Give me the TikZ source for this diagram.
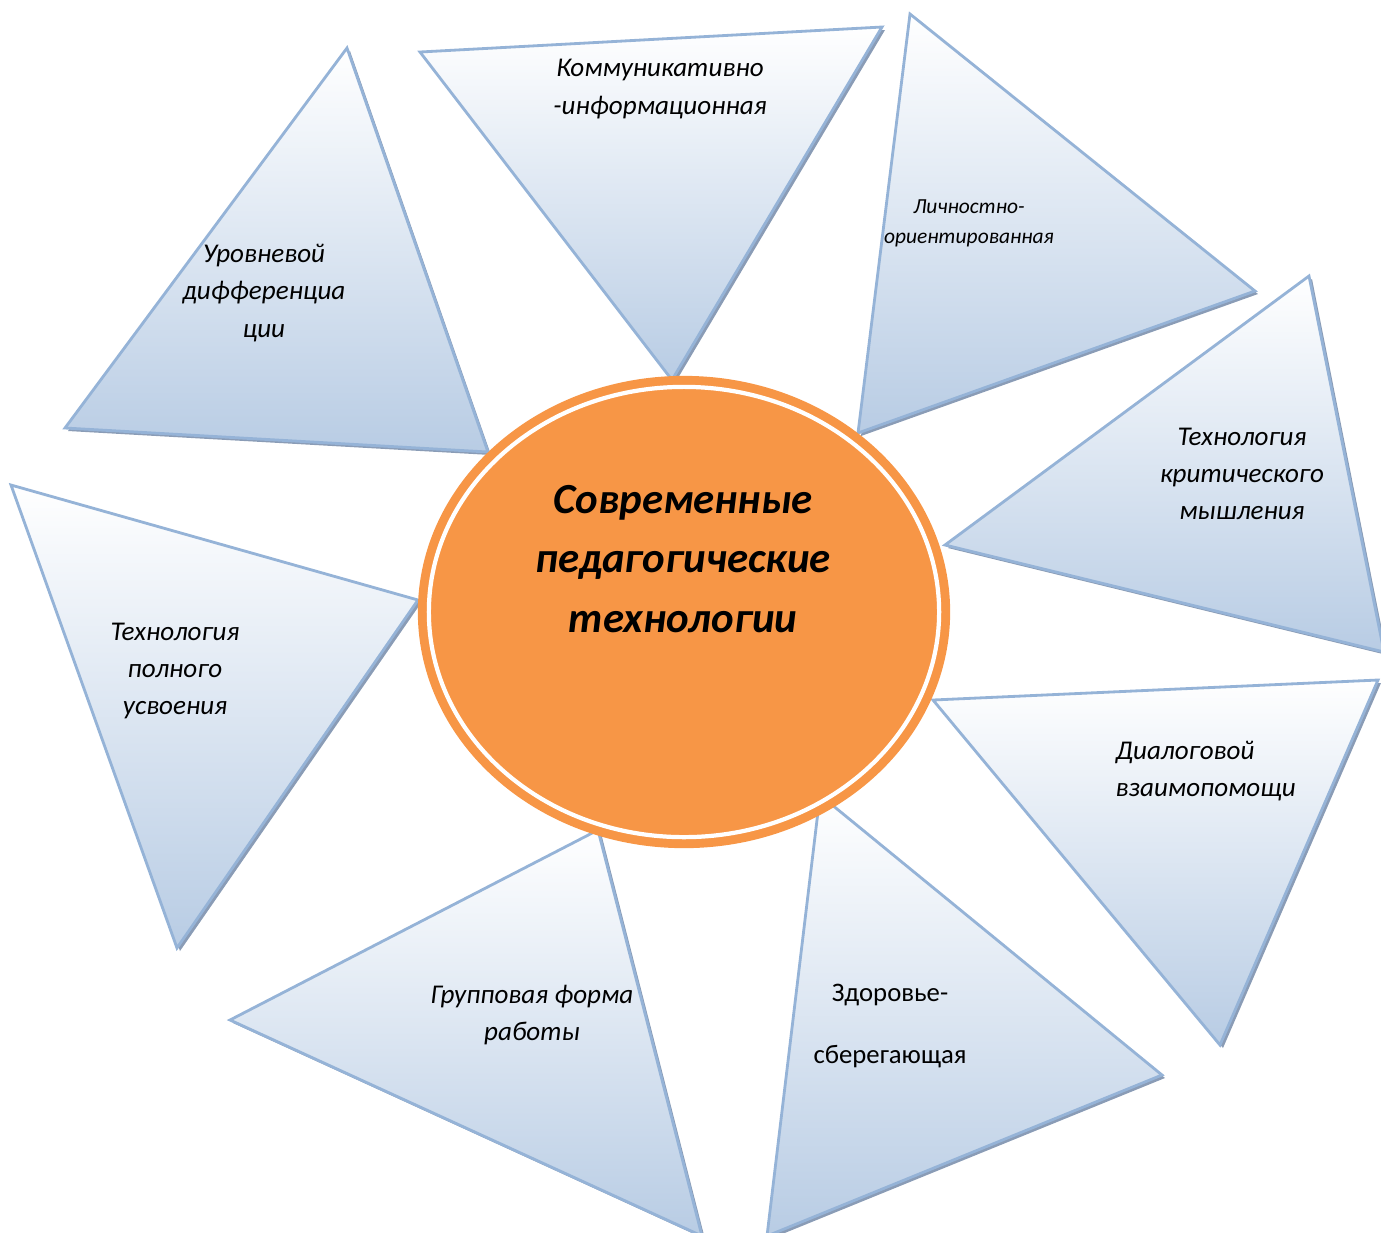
\documentclass[tikz,border=0pt]{standalone}
\usepackage{fontspec}
\setmainfont{Carlito}
\usetikzlibrary{shapes.geometric}
\definecolor{triline}{HTML}{95B3D7}
\definecolor{tribot}{HTML}{B8CCE4}
\definecolor{trishadow}{HTML}{8A9CB6}
\definecolor{core}{HTML}{F79646}
\tikzset{
  tri/.style={draw=triline, line width=.8pt, top color=white, bottom color=tribot},
  trishade/.style={fill=trishadow, shift={(3,3)}},
  lbl/.style={font=\itshape\fontsize{7.7}{10.6}\selectfont, align=center, inner sep=0},
}
\begin{document}
\begin{tikzpicture}[x=.01cm, y=-.01cm]
  \useasboundingbox (0,0) rectangle (1381,1232);
  % petals
  \foreach \ax/\ay/\bx/\by/\cx/\cy in {
      420/52/882/27/672/380, 910/14/1255/291/858/433,
      1309/276/1384/652/945/545, 933/700/1378/680/1220/1045,
      820/795/1162/1075/767/1236, 598/830/230/1020/702/1236,
      11/485/418/600/177/948, 347/48/488/452/65/428} {
    \fill[trishade] (\ax,\ay) -- (\bx,\by) -- (\cx,\cy) -- cycle;
    \draw[tri] (\ax,\ay) -- (\bx,\by) -- (\cx,\cy) -- cycle;
  }
  % centre
  \node[ellipse, fill=core, minimum width=5.32cm, minimum height=4.72cm, inner sep=0] (core) at (684,612) {};
  \draw[white, line width=1.2pt] (core.center) ellipse [x radius=2.55cm, y radius=2.25cm];
  \node[font=\bfseries\itshape\fontsize{12.2}{16.8}\selectfont, align=center] (title) at (683,559)
    {Современные\\педагогические\\технологии};
  % labels
  \node[lbl] (komm) at (660,89) {Коммуникативно\\-информационная};
  \node[lbl, font=\itshape\fontsize{6.1}{8.5}\selectfont] (lich) at (969,223) {Личностно-\\ориентированная};
  \node[lbl] (krit) at (1242,474) {Технология\\критического\\мышления};
  \node[lbl, align=left, anchor=west] (dial) at (1115,771) {Диалоговой\\взаимопомощи};
  \node[lbl, font=\fontsize{7.6}{17.6}\selectfont] (zdor) at (890,1026) {Здоровье-\\сберегающая};
  \node[lbl] (grup) at (532,1015) {Групповая форма\\работы};
  \node[lbl] (poln) at (175,671) {Технология\\полного\\усвоения};
  \node[lbl] (urov) at (264,293) {Уровневой\\дифференциа\\ции};
\end{tikzpicture}
\end{document}
